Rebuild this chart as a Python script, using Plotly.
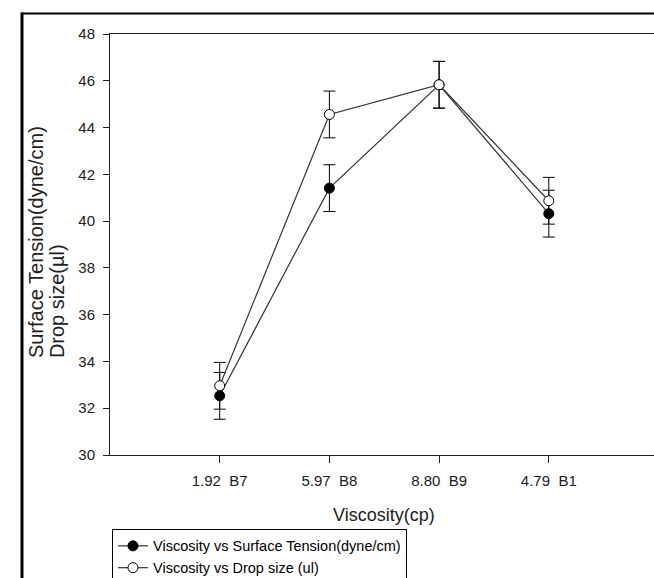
import plotly.graph_objects as go

categories = ["1.92  B7", "5.97  B8", "8.80  B9", "4.79  B1"]
cat_pos = [1, 2, 3, 4]
surface_tension = [32.53, 41.41, 45.83, 40.32]
surface_err = [1.0, 1.0, 1.0, 1.0]
drop_size = [32.96, 44.56, 45.83, 40.87]
drop_err = [1.0, 1.0, 1.0, 1.0]
y_ticks = [30, 32, 34, 36, 38, 40, 42, 44, 46, 48]
y_title_lines = ["Surface Tension(dyne/cm)", "Drop size(µl)"]

REG = "Liberation Sans, Arial, sans-serif"

W, H = 654, 578
L, T = 110, 33.5
B = 455
PW = W - L
PH = B - T
UNIT = 109.7

def px(x):
    return (x - L) / PW

def py(y):
    return (B - y) / PH

fig = go.Figure()
fig.add_trace(go.Scatter(
    x=cat_pos, y=surface_tension, mode="lines+markers",
    name="Viscosity vs Surface Tension(dyne/cm)",
    line=dict(color="#333333", width=1.2),
    marker=dict(symbol="circle", size=10, color="black", line=dict(color="black", width=1)),
    error_y=dict(type="data", array=surface_err, visible=True, color="black", thickness=1, width=6),
))
fig.add_trace(go.Scatter(
    x=cat_pos, y=drop_size, mode="lines+markers",
    name="Viscosity vs Drop size (ul)",
    line=dict(color="#333333", width=1.2),
    marker=dict(symbol="circle", size=10, color="white", line=dict(color="black", width=1)),
    error_y=dict(type="data", array=drop_err, visible=True, color="black", thickness=1, width=6),
))

annotations = [
    dict(text="Viscosity(cp)", x=2.5, xref="x", y=py(515), yref="paper",
         xanchor="center", yanchor="middle", showarrow=False,
         font=dict(family=REG, size=18, color="#222222")),
]
for line_text, cx in zip(y_title_lines, [36, 57]):
    annotations.append(dict(
        text=line_text, textangle=-90,
        x=px(cx), xref="paper", y=py(360), yref="paper",
        xanchor="center", yanchor="bottom", showarrow=False,
        font=dict(family=REG, size=20, color="#222222")))

fig.update_layout(
    width=W, height=H,
    margin=dict(l=L, r=0, t=T, b=H - B, autoexpand=False),
    paper_bgcolor="white", plot_bgcolor="white",
    showlegend=True,
    legend=dict(
        x=px(112), y=py(529), xanchor="left", yanchor="top",
        bordercolor="black", borderwidth=1, bgcolor="white",
        font=dict(family=REG, size=14.5, color="black"),
        tracegroupgap=0, itemwidth=30,
    ),
    xaxis=dict(
        range=[0, PW / UNIT],
        tickvals=cat_pos, ticktext=categories,
        showline=True, linecolor="#222222", linewidth=1, mirror=True,
        ticks="outside", ticklen=7, tickcolor="#222222",
        showgrid=False, zeroline=False,
        tickfont=dict(family=REG, size=15, color="#222222"),
        ticklabelstandoff=5,
    ),
    yaxis=dict(
        range=[30, 48], tickvals=y_ticks,
        showline=True, linecolor="#222222", linewidth=1, mirror=False,
        ticks="outside", ticklen=6, tickcolor="#222222",
        showgrid=False, zeroline=False,
        tickfont=dict(family=REG, size=15, color="#222222"),
        ticklabelstandoff=5,
    ),
    shapes=[
        dict(type="line", xref="paper", yref="paper", x0=px(22), x1=px(22), y0=py(12), y1=py(600),
             line=dict(color="black", width=3)),
        dict(type="line", xref="paper", yref="paper", x0=px(21), x1=px(660), y0=py(13), y1=py(13),
             line=dict(color="black", width=2)),
    ],
    annotations=annotations,
)

fig.write_html("out.html")
